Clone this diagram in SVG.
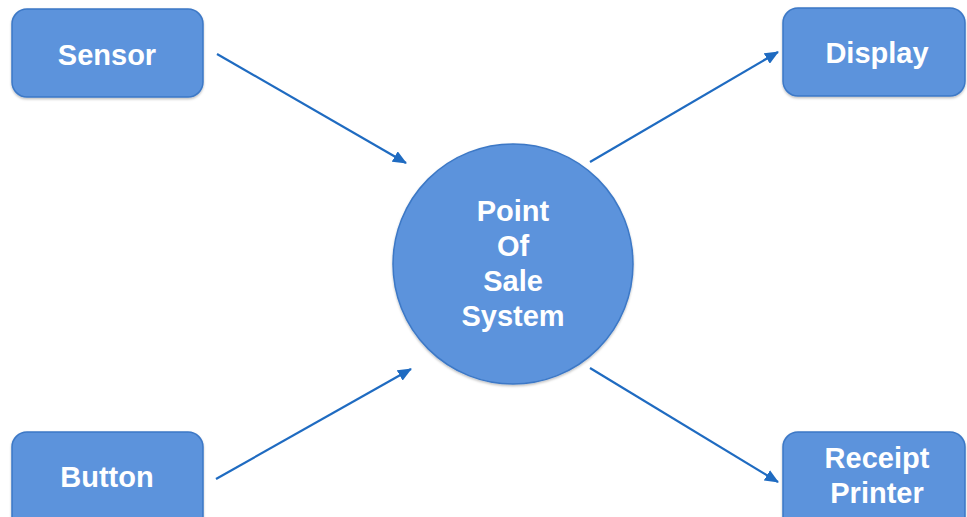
<svg xmlns="http://www.w3.org/2000/svg" width="967" height="517" viewBox="0 0 967 517">
<defs>
<style>
.node{fill:#5b93dc;stroke:#3c78c6;stroke-width:1.5;}
.lbl{font-family:"Liberation Sans",Arial,sans-serif;font-weight:bold;font-size:29px;fill:#ffffff;text-anchor:middle;}
.edge{stroke:#1f6bc1;stroke-width:2.2;fill:none;marker-end:url(#ah);}
</style>
<marker id="ah" markerWidth="14" markerHeight="12" refX="13" refY="6" orient="auto" markerUnits="userSpaceOnUse">
<path d="M0,0 L14,6 L0,12 Z" fill="#1f6bc1"/>
</marker>
<filter id="sh" x="-10%" y="-10%" width="120%" height="130%">
<feDropShadow dx="0" dy="1.5" stdDeviation="1.2" flood-color="#000" flood-opacity="0.25"/>
</filter>
</defs>
<rect width="967" height="517" fill="#ffffff"/>
<g id="connectors">
<line class="edge" x1="217" y1="54" x2="406" y2="163"/>
<line class="edge" x1="216" y1="479" x2="411" y2="369"/>
<line class="edge" x1="590" y1="162" x2="778" y2="52"/>
<line class="edge" x1="590" y1="368" x2="778" y2="482"/>
</g>
<g id="sensor">
<rect class="node" filter="url(#sh)" x="12" y="9" width="191" height="88" rx="15"/>
<text class="lbl" x="107" y="65">Sensor</text>
</g>
<g id="button">
<rect class="node" filter="url(#sh)" x="12" y="432" width="191" height="100" rx="15"/>
<text class="lbl" x="107" y="487">Button</text>
</g>
<g id="display">
<rect class="node" filter="url(#sh)" x="783" y="8" width="182" height="88" rx="15"/>
<text class="lbl" x="877" y="63">Display</text>
</g>
<g id="receipt-printer">
<rect class="node" filter="url(#sh)" x="783" y="432" width="182" height="100" rx="15"/>
<text class="lbl" x="877" y="468">Receipt</text>
<text class="lbl" x="877" y="503">Printer</text>
</g>
<g id="pos">
<circle class="node" filter="url(#sh)" cx="513" cy="264" r="120"/>
<text class="lbl" x="513" y="221">Point</text>
<text class="lbl" x="513" y="256">Of</text>
<text class="lbl" x="513" y="291">Sale</text>
<text class="lbl" x="513" y="326">System</text>
</g>
</svg>
